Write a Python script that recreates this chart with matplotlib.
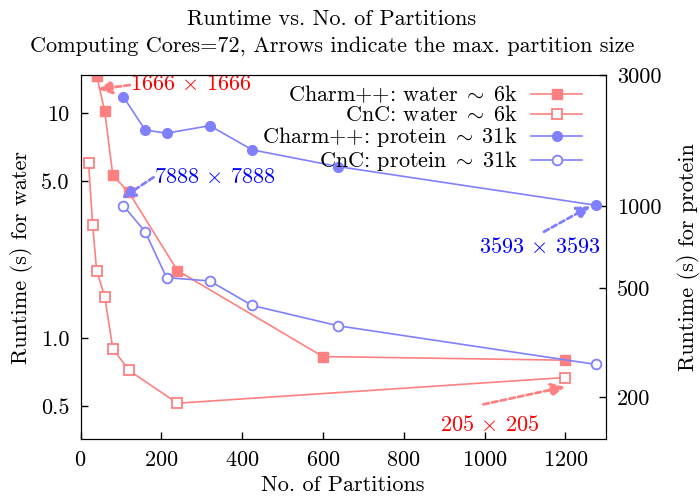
import matplotlib
matplotlib.use('Agg')
import matplotlib.pyplot as plt
from matplotlib.ticker import FixedLocator, FixedFormatter, NullLocator

plt.rcParams['font.family'] = ['cmr10']
plt.rcParams['mathtext.fontset'] = 'cm'
plt.rcParams['axes.formatter.use_mathtext'] = True
plt.rcParams['font.size'] = 16

# water runs (left axis)
charm_water_x = [40, 60, 80, 120, 240, 600, 1200]
charm_water_y = [14.7, 10.2, 5.3, 4.45, 2.0, 0.83, 0.80]
cnc_water_x = [20, 30, 40, 60, 80, 120, 240, 1200]
cnc_water_y = [6.0, 3.2, 2.0, 1.53, 0.9, 0.72, 0.515, 0.67]

# protein runs (right axis)
prot_x = [106, 160, 213, 320, 425, 638, 1275]
charm_prot_y = [2500, 1890, 1840, 1960, 1600, 1390, 1005]
cnc_prot_y = [1000, 805, 547, 532, 433, 365, 264]

water_ticks = [0.5, 1.0, 5.0, 10]
water_tick_labels = ['0.5', '1.0', '5.0', '10']
prot_ticks = [200, 500, 1000, 3000]
prot_tick_labels = ['200', '500', '1000', '3000']
x_ticks = [0, 200, 400, 600, 800, 1000, 1200]

RED = '#ff8080'
BLUE = '#8080ff'

fig = plt.figure(figsize=(7, 4.96), dpi=100)
ax = fig.add_axes([0.115, 0.1143, 0.7503, 0.7345])
ax2 = ax.twinx()

l1, = ax.plot(charm_water_x, charm_water_y, '-s', color=RED, lw=1.2, ms=7,
              label=r'Charm++: water$\;\sim\;$6k')
l2, = ax.plot(cnc_water_x, cnc_water_y, '-s', color=RED, lw=1.2, ms=7,
              mfc='white', mew=1.3, label=r'CnC: water$\;\sim\;$6k')
l3, = ax2.plot(prot_x, charm_prot_y, '-o', color=BLUE, lw=1.2, ms=7,
               label=r'Charm++: protein$\;\sim\;$31k')
l4, = ax2.plot(prot_x, cnc_prot_y, '-o', color=BLUE, lw=1.2, ms=7,
               mfc='white', mew=1.3, label=r'CnC: protein$\;\sim\;$31k')

ax.set_xlim(0, 1300)
ax.set_yscale('log')
ax.set_ylim(0.356, 14.8)
ax2.set_yscale('log')
ax2.set_ylim(140.7, 3000)

ax.xaxis.set_major_locator(FixedLocator(x_ticks))
ax.xaxis.set_minor_locator(NullLocator())
ax.yaxis.set_major_locator(FixedLocator(water_ticks))
ax.yaxis.set_major_formatter(FixedFormatter(water_tick_labels))
ax.yaxis.set_minor_locator(NullLocator())
ax2.yaxis.set_major_locator(FixedLocator(prot_ticks))
ax2.yaxis.set_major_formatter(FixedFormatter(prot_tick_labels))
ax2.yaxis.set_minor_locator(NullLocator())

ax.tick_params(axis='both', direction='in', length=5, width=1, pad=8)
ax.tick_params(axis='y', right=False)
ax2.tick_params(axis='y', direction='in', length=5, width=1, pad=8)

ax.set_xlabel('No. of Partitions', labelpad=4)
ax.set_ylabel('Runtime (s) for water', labelpad=6)
ax2.set_ylabel('Runtime (s) for protein', labelpad=11)

fig.text(0.474, 0.962, 'Runtime vs. No. of Partitions', ha='center', va='center')
fig.text(0.474, 0.908, 'Computing Cores=72, Arrows indicate the max. partition size',
         ha='center', va='center')

leg = ax2.legend(handles=[l1, l2, l3, l4], loc='upper right',
                 bbox_to_anchor=(0.955, 0.976), frameon=False, markerfirst=False,
                 handlelength=2.3, handletextpad=0.6, labelspacing=0.0,
                 borderpad=0, borderaxespad=0)

# arrows marking the max partition size
arrow_kw = dict(arrowstyle='-|>,head_length=0.5,head_width=0.25', lw=2,
                linestyle=(0, (2, 1.2)), shrinkA=0, shrinkB=0)
ax.annotate('', xy=(44, 12.8), xytext=(122, 13.35),
            arrowprops=dict(color=RED, **arrow_kw))
ax.text(122, 13.5, r'1666 $\times$ 1666', color='red', ha='left', va='center')

ax2.annotate('', xy=(102, 1064), xytext=(181, 1271),
             arrowprops=dict(color=BLUE, **arrow_kw))
ax2.text(181, 1275, r'7888 $\times$ 7888', color='blue', ha='left', va='center')

ax2.annotate('', xy=(1262, 997), xytext=(1147, 804),
             arrowprops=dict(color=BLUE, **arrow_kw))
ax2.text(1138, 709, r'3593 $\times$ 3593', color='blue', ha='center', va='center')

ax.annotate('', xy=(1199, 0.609), xytext=(997, 0.509),
            arrowprops=dict(color=RED, **arrow_kw))
ax.text(1012, 0.412, r'205 $\times$ 205', color='red', ha='center', va='center')

fig.savefig('out.png', dpi=100)
